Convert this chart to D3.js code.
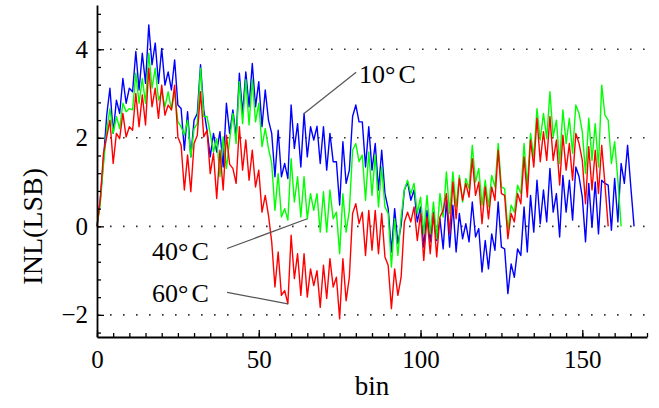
<!DOCTYPE html>
<html lang="en">
<head>
  <meta charset="UTF-8">
  <title>INL vs bin</title>
  <script src="https://d3js.org/d3.v7.min.js"></script>
  <style>
    body { margin: 0; background: #fff; }
    svg { display: block; }
    text { font-family: "Liberation Serif", "Times New Roman", serif; fill: #000; }
    .axis path, .axis line { stroke: #000; }
    .axis path { stroke-width: 1.8px; }
    .axis line { stroke-width: 1.3px; }
    .axis text { font-size: 25px; font-family: "Liberation Serif", serif; }
    .grid { stroke: #333; stroke-width: 1.6px; stroke-dasharray: 1.6 11.4; }
    .series { fill: none; stroke-width: 1.4px; stroke-linejoin: round; }
    .leader { stroke: #555; stroke-width: 1.2px; }
  </style>
</head>
<body>
  <svg width="659" height="408"></svg>
  <script>
    // INL per bin at three temperatures
    const inl10 = [
      0, 0.6, 1.5, 2.51, 3.12, 2.10, 2.85, 2.55, 3.34, 2.78,
      3.12, 3.04, 3.95, 3.08, 3.91, 3.23, 4.55, 3.65, 4.14, 3.23,
      4.02, 3.19, 3.49, 3.08, 3.76, 2.74, 2.66, 1.72, 2.59, 1.57,
      2.40, 2.55, 3.65, 2.63, 2.17, 1.57, 2.10, 1.68, 2.14, 1.34,
      2.78, 2.10, 2.63, 2.02, 3.46, 2.55, 3.49, 2.70, 3.68, 2.70,
      3.27, 2.25, 3.08, 2.40, 2.10, 1.12, 2.17, 1.12, 1.42, 1.08,
      2.74, 1.76, 2.32, 1.34, 2.55, 1.57, 2.25, 1.95, 2.26, 1.42,
      2.25, 1.27, 2.10, 1.46, 1.46, 0.48, 1.91, 0.97, 1.27, 2.48,
      2.74, 2.36, 2.36, 1.34, 2.25, 1.27, 1.87, 0.82, 1.72, 0.74,
      0.40, -0.58, 0.40, -0.39, 0.02, 0.82, 1.00, 0.59, 0.82, 0.10,
      0.44, -0.47, 0.36, -0.35, 0.32, -0.32, 0.17, -0.51, 0.59, -0.47,
      0.48, -0.58, 0.29, -0.28, 0.06, -0.35, 0.55, -0.24, -0.05, -1.03,
      -0.32, -0.96, -0.17, -0.54, 0.55, -0.47, -0.51, -1.52, -0.85, -1.15,
      -0.51, -0.66, 0.44, -0.58, 0.70, -0.13, 1.04, 0.06, 0.82, 0.10,
      1.31, 0.32, 0.74, -0.24, 1.15, 0.32, 1.04, 0.14, 1.34, 1.12,
      0.66, -0.35, 0.97, -0.02, 1.00, -0.17, 1.04, 0.97, 0.93, -0.09,
      1.08, 0.10, 1.42, 0.97, 1.83, 0.89, 0
    ];
    const inl40 = [
      0, 0.5, 1.4, 2.17, 2.66, 2.10, 2.48, 2.21, 2.78, 2.59,
      2.66, 2.63, 3.46, 2.78, 3.34, 2.78, 3.91, 3.12, 3.57, 2.85,
      3.04, 2.70, 3.04, 2.63, 3.04, 2.36, 2.25, 2.06, 2.40, 1.57,
      2.21, 2.32, 3.57, 2.48, 2.48, 2.10, 1.68, 1.98, 1.12, 2.02,
      1.31, 1.95, 2.55, 1.87, 3.27, 2.32, 3.31, 2.29, 3.31, 2.36,
      2.78, 1.80, 2.21, 1.76, 1.42, 0.36, 1.19, 0.21, 0.40, 0.14,
      1.53, 0.55, 1.12, 0.21, 1.12, 0.17, 0.74, 0.36, 0.74, -0.13,
      0.78, -0.13, 0.82, 0.17, 0.32, -0.62, 0.74, -0.13, 0.36, 1.72,
      1.87, 1.46, 1.61, 0.59, 1.68, 0.70, 1.61, 0.44, 1.34, 0.44,
      0.29, -0.92, 0.17, -0.66, 0.21, 0.82, 1.04, 0.74, 0.97, 0.29,
      0.66, -0.17, 0.70, -0.17, 0.55, -0.28, 0.74, 0.21, 1.23, 0.29,
      1.23, 0.44, 1.15, 0.55, 1.08, 0.85, 1.83, 1.00, 1.31, 0.48,
      1.04, 0.44, 1.15, 0.89, 1.87, 0.89, 0.85, -0.09, 0.48, 0.32,
      0.93, 0.74, 1.87, 0.89, 2.10, 1.57, 2.66, 1.95, 2.55, 1.98,
      3.04, 2.02, 2.40, 1.42, 2.63, 1.87, 2.44, 1.65, 2.74, 2.55,
      2.14, 1.19, 2.44, 1.49, 2.32, 1.34, 3.19, 2.51, 2.40, 1.42,
      1.91, 1.04, 0
    ];
    const inl60 = [
      0, 0.59, 1.65, 2.02, 2.40, 1.42, 2.10, 1.98, 2.55, 2.02,
      2.25, 2.17, 3.00, 2.25, 2.97, 2.29, 3.57, 2.70, 3.12, 2.44,
      3.19, 2.51, 2.74, 2.63, 3.19, 2.02, 1.83, 0.82, 1.61, 0.78,
      1.87, 2.06, 3.04, 2.02, 2.17, 1.19, 1.65, 0.63, 1.72, 0.82,
      2.06, 1.40, 1.31, 0.97, 2.25, 1.27, 1.95, 1.04, 1.72, 0.89,
      1.27, 0.32, 0.70, 0.25, -0.35, -1.37, -0.58, -1.56, -1.45, -1.75,
      -0.20, -1.18, -0.62, -1.56, -0.62, -1.60, -0.96, -1.34, -1.00, -1.83,
      -0.88, -1.63, -0.73, -1.37, -1.15, -2.09, -0.73, -1.68, -1.15, 0.29,
      0.51, 0.06, 0.32, -0.66, 0.36, -0.54, 0.36, -0.62, 0.29, -0.69,
      -0.88, -1.86, -0.96, -1.56, -1.15, 0.10, 0.32, 0.10, 0.44, -0.32,
      0.29, -0.77, 0.21, -0.62, 0.29, -0.69, 0.21, 0.36, 0.74, -0.17,
      1.00, 0.17, 1.08, 0.59, 0.97, 0.66, 1.53, 0.70, 1.00, 0.06,
      0.89, 0.17, 0.89, 0.59, 1.72, 0.74, 0.70, -0.28, 0.29, 0.10,
      0.74, 0.51, 1.57, 0.66, 1.95, 1.34, 2.44, 1.46, 2.14, 1.49,
      2.48, 1.49, 1.95, 0.93, 2.06, 1.27, 1.87, 1.04, 2.10, 1.87,
      1.49, 0.51, 1.80, 0.82, 1.72, 0.74, 1.83, 0.95, 0
    ];

    const seriesTemps = ["10", "40", "60"];
    const seriesColors = ["#0000ff", "#00ff00", "#ff0000"];
    const majorY = [-2, 0, 2, 4];
    const majorX = [0, 50, 100, 150];

    // label text anchor [bin, INL], leader start [bin, INL], leader end bin on its own series
    const labelAt = [[81, 3.23], [17, -0.77], [17, -1.72]];
    const leaderFrom = [[80.1, 3.48], [40.2, -0.5], [40.2, -1.49]];
    const leaderBin = [64, 65, 59];

    const svg = d3.select("svg");
    const x = d3.scaleLinear().domain([0, 170]).range([97, 647]);
    const y = d3.scaleLinear().domain([-2.5, 5]).range([337, 5]);

    // dotted horizontal grid
    svg.append("g").selectAll("line")
      .data(majorY).join("line")
      .attr("class", "grid")
      .attr("x1", x(0)).attr("x2", x(170))
      .attr("y1", d => y(d)).attr("y2", d => y(d));

    // data lines
    const all = [inl10, inl40, inl60];
    const line = d3.line().x((d, i) => x(i)).y(d => y(d));
    svg.append("g").selectAll("path")
      .data(all).join("path")
      .attr("class", "series")
      .attr("stroke", (d, i) => seriesColors[i])
      .attr("d", line);

    // minor ticks
    svg.append("g").attr("class", "axis")
      .attr("transform", `translate(${x(0)},0)`)
      .call(d3.axisLeft(y).tickValues(d3.range(-24, 49, 4).map(v => v / 10)).tickSize(-4).tickFormat(""))
      .select(".domain").remove();
    svg.append("g").attr("class", "axis")
      .attr("transform", `translate(0,${y(-2.5)})`)
      .call(d3.axisBottom(x).tickValues(d3.range(0, 171, 5)).tickSize(-4).tickFormat(""))
      .select(".domain").remove();

    // major ticks + labels
    svg.append("g").attr("class", "axis")
      .attr("transform", `translate(${x(0)},0)`)
      .call(d3.axisLeft(y).tickValues(majorY).tickSizeInner(-7).tickSizeOuter(0).tickPadding(9));
    svg.append("g").attr("class", "axis")
      .attr("transform", `translate(0,${y(-2.5)})`)
      .call(d3.axisBottom(x).tickValues(majorX).tickSizeInner(-7).tickSizeOuter(0).tickPadding(13));

    // axis titles
    svg.append("text")
      .attr("x", (x(0) + x(170)) / 2).attr("y", 395)
      .attr("text-anchor", "middle").style("font-size", "27px")
      .text("bin");
    svg.append("text")
      .attr("transform", `translate(42,${y(0)}) rotate(-90)`)
      .attr("text-anchor", "middle").style("font-size", "28px")
      .text("INL(LSB)");

    // temperature annotations
    seriesTemps.forEach((t, i) => {
      svg.append("line")
        .attr("class", "leader")
        .attr("x1", x(leaderFrom[i][0])).attr("y1", y(leaderFrom[i][1]))
        .attr("x2", x(leaderBin[i])).attr("y2", y(all[i][leaderBin[i]]));
      const lbl = svg.append("text")
        .attr("x", x(labelAt[i][0])).attr("y", y(labelAt[i][1]))
        .style("font-size", "26px");
      lbl.append("tspan").text(t + "°");
      lbl.append("tspan").attr("dx", 3).text("C");
    });
  </script>
</body>
</html>
